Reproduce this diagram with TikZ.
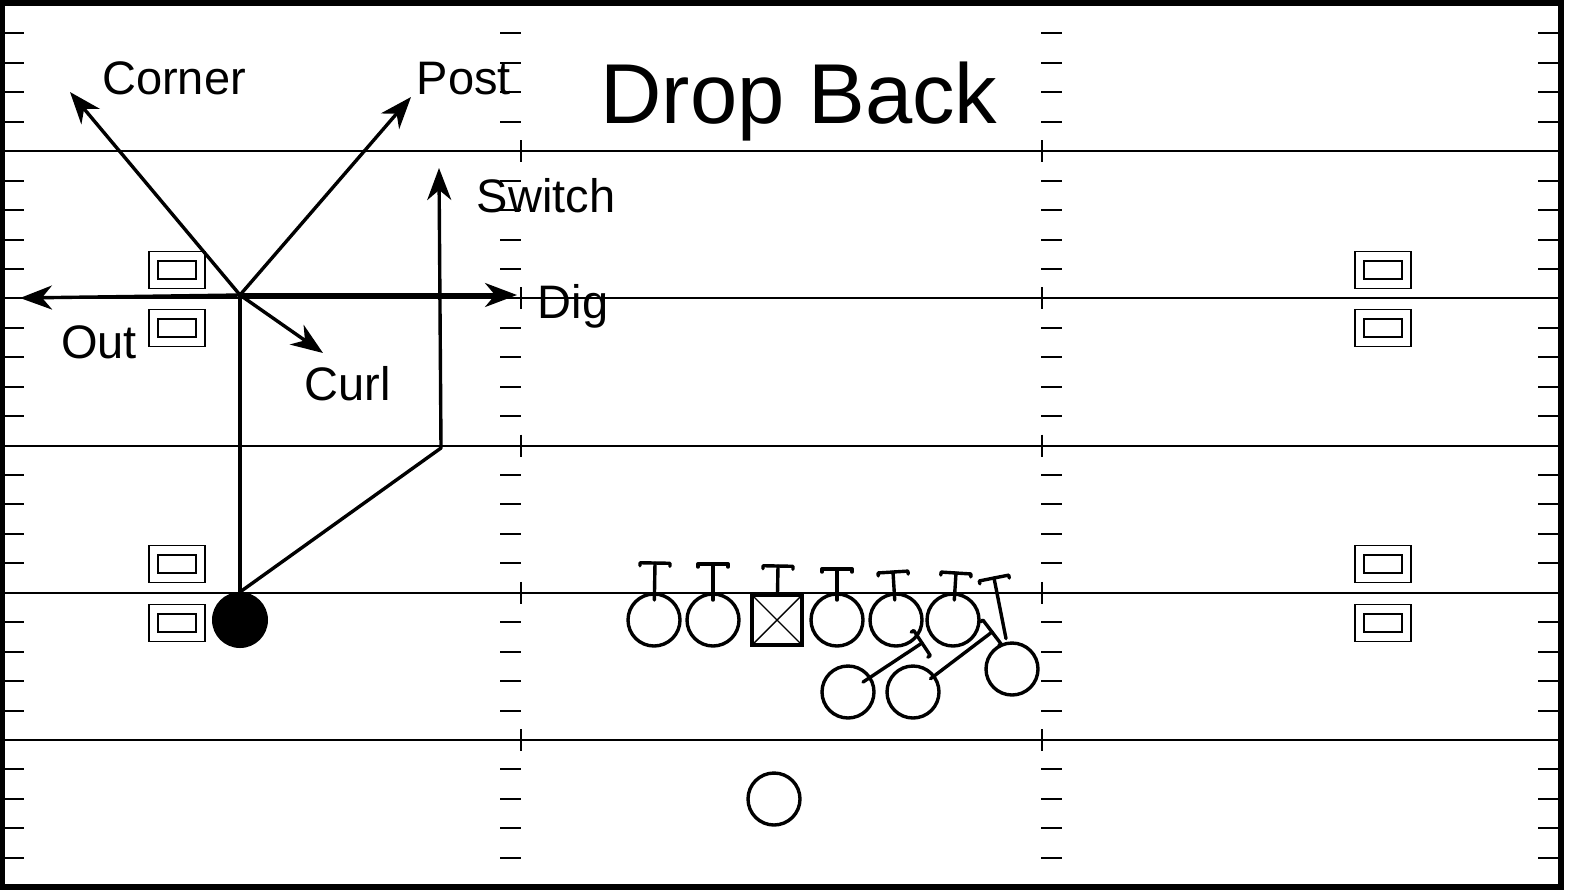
\documentclass[tikz,border=0pt]{standalone}
\usepackage{fontspec}
\setmainfont{Liberation Sans}
\usetikzlibrary{arrows.meta, calc, positioning}
\tikzset{
    yardline/.style={line width=1pt, black},
    hashtick/.style={line width=1pt, black},
    frame/.style={line width=3pt, black},
    numbox/.style={rectangle, draw, line width=0.9pt, minimum width=28pt, minimum height=18.5pt,
                   inner sep=0pt, outer sep=0pt,
                   path picture={\draw[line width=0.9pt] ($(path picture bounding box.center)+(-19,-9)$) rectangle ++(38,18);}},
    player/.style={circle, draw, line width=1.7pt, minimum size=26pt, inner sep=0pt, outer sep=0pt},
    snapbox/.style={rectangle, draw, line width=1.9pt, minimum size=25pt, inner sep=0pt, outer sep=0pt},
    receiver/.style={circle, fill=black, minimum size=28pt, inner sep=0pt, outer sep=0pt},
    block/.style={line width=1.7pt, line cap=round, line join=round},
    route/.style={line width=1.7pt, line join=round},
    pass/.style={route, -{Stealth[length=16pt, width=12pt, inset=5pt]}},
    lbl/.style={font=\fontsize{23.5}{28}\selectfont, inner sep=0pt},
    playtitle/.style={font=\fontsize{42.5}{50}\selectfont, inner sep=0pt}
}
% stem from a player towards an end point, with a cross bar there
\newcommand{\blockmark}[3]{%
    \coordinate (bs) at ($(#1.center)!#3!(#2)$);
    \coordinate (bh) at ($(#2)!1.5pt!(#1.center)$);
    \draw[block] (bs) -- (#2);
    \draw[block] ($(bh)!7.5pt!90:(#1.center)$) -- ($(#2)!7.5pt!90:(#1.center)$)
        -- ($(#2)!7.5pt!-90:(#1.center)$) -- ($(bh)!7.5pt!-90:(#1.center)$);
}
\begin{document}
\begin{tikzpicture}[x=0.5pt, y=-0.5pt]
    \useasboundingbox (0,0) rectangle (1572,890);

    % yard lines and hash marks
    \foreach \k in {1,...,5}{
        \pgfmathsetmacro\ly{4+147.2*\k}
        \draw[yardline] (0,\ly) -- (1561,\ly);
        \draw[hashtick] (521,{\ly-11}) -- (521,{\ly+11});
        \draw[hashtick] (1042,{\ly-11}) -- (1042,{\ly+11});
    }
    \foreach \j in {0,...,5}{
        \foreach \i in {1,...,4}{
            \pgfmathsetmacro\ty{4+29.44*(5*\j+\i)}
            \draw[hashtick] (4,\ty) -- (24,\ty);
            \draw[hashtick] (500,\ty) -- (521,\ty);
            \draw[hashtick] (1041,\ty) -- (1062,\ty);
            \draw[hashtick] (1538,\ty) -- (1559,\ty);
        }
    }

    % number boxes
    \node[numbox] (nl1) at (177,270) {};
    \node[numbox] (nl2) at (177,328) {};
    \node[numbox] (nl3) at (177,564) {};
    \node[numbox] (nl4) at (177,623) {};
    \node[numbox] (nr1) at (1383,270) {};
    \node[numbox] (nr2) at (1383,328) {};
    \node[numbox] (nr3) at (1383,564) {};
    \node[numbox] (nr4) at (1383,623) {};

    % title
    \node[playtitle, anchor=base] (title) at (799,123) {Drop Back};

    % offense
    \node[player] (lt) at (654,620) {};
    \node[player] (lg) at (713,620) {};
    \node[snapbox] (ctr) at (777,620) {};
    \draw[line width=0.7pt] (ctr.north west) -- (ctr.south east)
        (ctr.north east) -- (ctr.south west);
    \node[player] (rg) at (837,620) {};
    \node[player] (rt) at (896,620) {};
    \node[player] (te) at (953,620) {};
    \node[player] (hb1) at (848,692) {};
    \node[player] (hb2) at (913,692) {};
    \node[player] (hb3) at (1012,669) {};
    \node[player] (qb) at (774,799) {};
    \node[receiver] (wr) at (240,620) {};

    % blocking
    \coordinate (ltblk) at (655,563);
    \coordinate (lgblk) at (713,564);
    \coordinate (ctrblk) at (778,566);
    \coordinate (rgblk) at (837,569);
    \coordinate (rtblk) at (893,572);
    \coordinate (teblk) at (956,573);
    \coordinate (hbablk) at (922,643);
    \coordinate (hbbblk) at (992,632);
    \coordinate (hbcblk) at (994,578);
    \blockmark{lt}{ltblk}{10pt}
    \blockmark{lg}{lgblk}{10pt}
    \blockmark{ctr}{ctrblk}{12.5pt}
    \blockmark{rg}{rgblk}{10pt}
    \blockmark{rt}{rtblk}{10pt}
    \blockmark{te}{teblk}{10pt}
    \blockmark{hb1}{hbablk}{9pt}
    \blockmark{hb2}{hbbblk}{11pt}
    \blockmark{hb3}{hbcblk}{15.5pt}

    % routes
    \coordinate (brk) at (240,295);
    \coordinate (cornerpt) at (70,92);
    \coordinate (postpt) at (411,97);
    \coordinate (outpt) at (20,298);
    \coordinate (digpt) at (517,295);
    \coordinate (curlpt) at (323,353);
    \coordinate (swbrk) at (441,448);
    \coordinate (swpt) at (439,168);
    \draw[route] (wr.north) -- (brk);
    \draw[pass] (brk) -- (cornerpt);
    \draw[pass] (brk) -- (postpt);
    \draw[pass] (brk) -- (outpt);
    \draw[pass] (brk) -- (digpt);
    \draw[pass] (brk) -- (curlpt);
    \draw[pass] (wr.north) -- (swbrk) -- (swpt);

    % route labels
    \node[lbl, anchor=base] (cornerlbl) at (174,94) {Corner};
    \node[lbl, anchor=base] (postlbl) at (464,94) {Post};
    \node[lbl, anchor=base] (switchlbl) at (546,212) {Switch};
    \node[lbl, anchor=base] (diglbl) at (573,318) {Dig};
    \node[lbl, anchor=base] (outlbl) at (99,358) {Out};
    \node[lbl, anchor=base] (curllbl) at (348,400) {Curl};

    % field border
    \draw[frame] (1.5,3) rectangle (1561,887);
\end{tikzpicture}
\end{document}
